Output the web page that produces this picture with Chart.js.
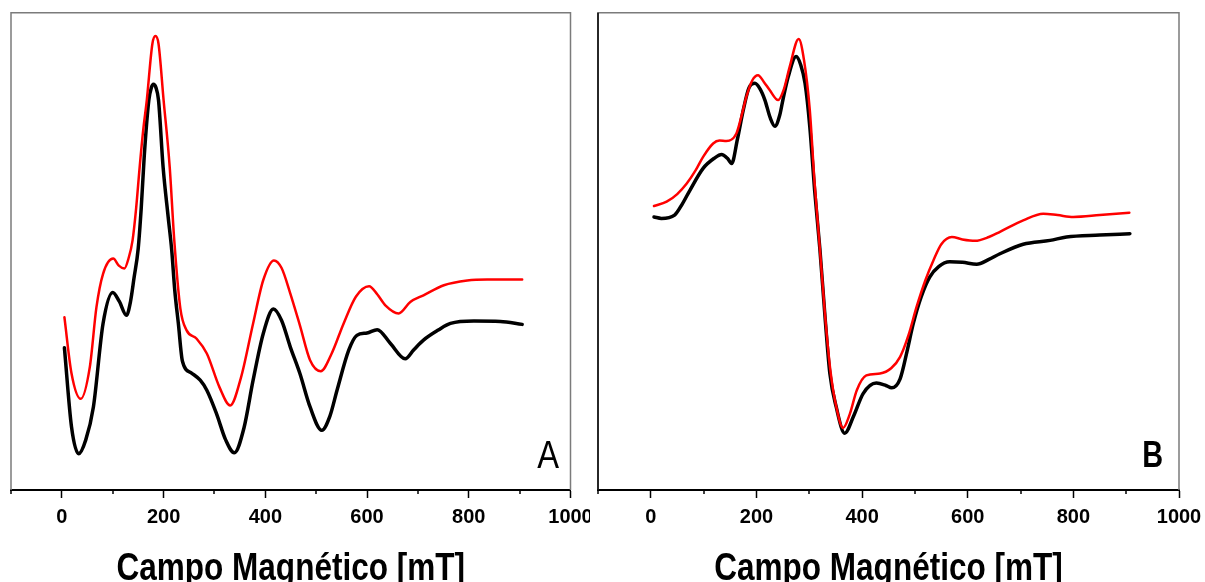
<!DOCTYPE html>
<html>
<head>
<meta charset="utf-8">
<script src="https://cdn.jsdelivr.net/npm/chart.js@4"></script>
<style>
  html, body { margin: 0; padding: 0; background: #fff; overflow: hidden; width: 1205px; height: 582px; }
  .panel { position: absolute; top: 0; }
  #panelA { left: 0; }
  #panelB { left: 590px; }
</style>
</head>
<body>
<div class="panel" id="panelA"><canvas id="chartA" width="590" height="600"></canvas></div>
<div class="panel" id="panelB"><canvas id="chartB" width="615" height="600"></canvas></div>
<script>
// field in mT, intensity in arbitrary units (0-100)
const fieldA_black = [5, 19, 33, 47, 62, 81, 100, 113, 127, 135, 142, 150, 156, 162, 171, 176, 180, 185, 190, 199, 209, 216, 222, 229, 237, 255, 272, 285, 304, 322, 339, 358, 376, 396, 416, 432, 449, 468, 488, 511, 527, 541, 564, 580, 600, 620, 646, 675, 692, 711, 740, 764, 810, 862, 905];
const signalA_black = [29.8, 13.2, 7.6, 10.5, 17.4, 34.9, 41.4, 39.5, 36.6, 39.5, 44.5, 50.5, 59.0, 70.0, 81.7, 84.3, 85.0, 84.3, 81.7, 67.7, 57.2, 50.2, 41.8, 34.9, 27.0, 24.5, 23.0, 20.9, 16.0, 10.5, 7.8, 13.0, 23.0, 32.8, 37.9, 35.5, 30.0, 24.4, 17.4, 12.5, 15.5, 20.9, 29.3, 32.4, 32.9, 33.6, 30.7, 27.5, 29.4, 31.4, 33.5, 34.9, 35.4, 35.3, 34.7];

const fieldA_red = [5, 19, 37, 55, 68, 81, 101, 112, 123, 131, 139, 146, 153, 160, 167, 178, 184, 190, 200, 212, 221, 233, 245, 265, 285, 310, 331, 352, 376, 396, 417, 432, 449, 468, 488, 509, 530, 554, 578, 604, 620, 636, 662, 685, 711, 751, 797, 836, 905];
const signalA_red = [36.2, 24.4, 19.1, 25.8, 38.3, 45.3, 48.5, 47.0, 46.4, 48.5, 52.3, 59.0, 67.7, 75.5, 81.7, 93.5, 95.1, 93.5, 81.7, 67.7, 52.3, 38.0, 33.5, 31.7, 28.6, 21.5, 17.7, 23.5, 34.9, 44.0, 48.1, 46.5, 41.2, 34.5, 27.2, 24.9, 28.5, 34.9, 40.5, 42.7, 41.0, 38.7, 37.0, 39.4, 40.8, 42.9, 43.9, 44.1, 44.1];

const fieldB_black = [6, 20, 45, 60, 74, 99, 120, 134, 145, 153, 164, 175, 186, 197, 207, 216, 226, 235, 244, 250, 260, 275, 284, 292, 301, 310, 320, 330, 339, 351, 367, 384, 402, 427, 445, 456, 472, 485, 497, 512, 528, 545, 566, 590, 617, 640, 661, 705, 756, 787, 850, 907];
const signalB_black = [57.2, 56.9, 57.6, 60.0, 62.8, 67.4, 69.5, 70.3, 69.5, 68.4, 73.5, 79.6, 84.3, 85.2, 84.0, 81.7, 78.0, 76.2, 78.5, 81.7, 86.5, 90.8, 89.0, 85.2, 76.1, 63.0, 50.6, 36.0, 24.4, 17.4, 11.9, 15.5, 20.2, 22.4, 21.9, 21.4, 23.3, 29.0, 34.9, 40.5, 44.6, 46.8, 47.8, 47.7, 47.3, 48.3, 49.5, 51.5, 52.3, 53.0, 53.4, 53.7];

const fieldB_red = [6, 30, 50, 68, 85, 99, 118, 130, 143, 162, 172, 181, 192, 203, 214, 225, 241, 252, 263, 280, 290, 301, 310, 320, 330, 340, 351, 364, 377, 390, 408, 434, 455, 472, 488, 503, 520, 535, 550, 570, 590, 614, 640, 661, 705, 743, 770, 800, 850, 906];
const signalB_red = [59.5, 60.4, 62.0, 64.2, 67.0, 69.8, 72.6, 73.2, 73.1, 74.7, 78.5, 82.4, 85.8, 86.9, 85.5, 83.8, 81.7, 84.0, 88.7, 94.5, 90.1, 79.6, 64.5, 50.6, 36.5, 25.0, 17.5, 13.0, 16.0, 20.9, 24.0, 24.4, 25.5, 27.9, 32.5, 38.3, 44.0, 48.1, 51.5, 53.0, 52.5, 52.2, 53.0, 54.1, 56.5, 57.9, 57.6, 57.2, 57.6, 58.1];

const majorTicks = [0, 200, 400, 600, 800, 1000];
const minorTicks = [-100, 100, 300, 500, 700, 900];
const axisTitle = "Campo Magnético [mT]";

const toPoints = (xs, ys) => xs.map((x, i) => ({ x, y: ys[i] }));

// narrow text: the original uses a condensed bold face
function narrowText(ctx, text, x, y, font, sx, align) {
    ctx.save();
    ctx.font = font;
    ctx.fillStyle = "#000";
    ctx.textAlign = align;
    ctx.textBaseline = "alphabetic";
    ctx.translate(x, y);
    ctx.scale(sx, 1);
    ctx.fillText(text, 0, 0);
    ctx.restore();
}

// frame, minor ticks, axis title and the panel letter
const framePlugin = {
    id: "frame",
    beforeDatasetsDraw(chart, args, opts) {
        const { ctx, chartArea: a } = chart;
        ctx.save();
        ctx.lineWidth = 1.5;
        ctx.strokeStyle = "#7b7b7b";
        ctx.beginPath();
        ctx.moveTo(a.left, a.bottom);
        ctx.lineTo(a.left, a.top);
        ctx.lineTo(a.right, a.top);
        ctx.lineTo(a.right, a.bottom);
        ctx.stroke();
        if (opts.leftColor) {
            ctx.strokeStyle = opts.leftColor;
            ctx.beginPath();
            ctx.moveTo(a.left, a.bottom);
            ctx.lineTo(a.left, a.top);
            ctx.stroke();
        }
        ctx.restore();
    },
    afterDraw(chart, args, opts) {
        const { ctx, chartArea: a, scales } = chart;
        ctx.save();
        ctx.strokeStyle = "#000";
        ctx.lineWidth = 1.5;
        minorTicks.forEach(v => {
            const px = Math.round(scales.x.getPixelForValue(v));
            ctx.beginPath();
            ctx.moveTo(px, a.bottom);
            ctx.lineTo(px, a.bottom + 4);
            ctx.stroke();
        });
        ctx.restore();
        narrowText(ctx, axisTitle, (a.left + a.right) / 2, 580,
            "bold 38px 'Liberation Sans', Arial, sans-serif", 0.83, "center");
        narrowText(ctx, opts.letter, a.right - opts.dx, a.bottom - opts.dy,
            opts.font, opts.sx, "right");
    }
};

function makeChart(id, pad, redPts, blackPts, frameOpts) {
    return new Chart(document.getElementById(id), {
        type: "line",
        data: {
            datasets: [
                { data: redPts, borderColor: "#ff0000", borderWidth: 2.5 },
                { data: blackPts, borderColor: "#000000", borderWidth: 3.5 }
            ]
        },
        options: {
            responsive: false,
            animation: false,
            events: [],
            layout: { autoPadding: false, padding: pad },
            elements: {
                point: { radius: 0 },
                line: { cubicInterpolationMode: "monotone", borderCapStyle: "round", borderJoinStyle: "round" }
            },
            plugins: {
                legend: { display: false },
                tooltip: { enabled: false },
                frame: frameOpts
            },
            scales: {
                x: {
                    type: "linear",
                    min: -100,
                    max: 1000,
                    afterFit: s => { s.height = 110; s.paddingLeft = 0; s.paddingRight = 0; },
                    afterBuildTicks: s => { s.ticks = majorTicks.map(v => ({ value: v })); },
                    ticks: {
                        color: "#000",
                        font: { family: "'Liberation Sans', Arial, sans-serif", size: 20, weight: "bold" },
                        padding: 7,
                        maxRotation: 0,
                        autoSkip: false,
                        callback: v => String(v)
                    },
                    grid: {
                        drawOnChartArea: false,
                        tickLength: 8,
                        tickColor: "#000",
                        tickWidth: 1.5
                    },
                    border: { display: true, color: "#000", width: 2 },
                    title: { display: false }
                },
                y: { display: false, min: 0, max: 100 }
            }
        },
        plugins: [framePlugin]
    });
}

makeChart("chartA", { left: 11, right: 19.5, top: 12.7, bottom: 0 },
    toPoints(fieldA_red, signalA_red), toPoints(fieldA_black, signalA_black),
    { letter: "A", font: "38px 'Liberation Sans', Arial, sans-serif", sx: 0.86, dx: 11.5, dy: 22 });

makeChart("chartB", { left: 8, right: 26, top: 12.7, bottom: 0 },
    toPoints(fieldB_red, signalB_red), toPoints(fieldB_black, signalB_black),
    { letter: "B", font: "bold 37px 'Liberation Sans', Arial, sans-serif", sx: 0.78, dx: 16, dy: 23, leftColor: "#000" });
</script>
</body>
</html>
